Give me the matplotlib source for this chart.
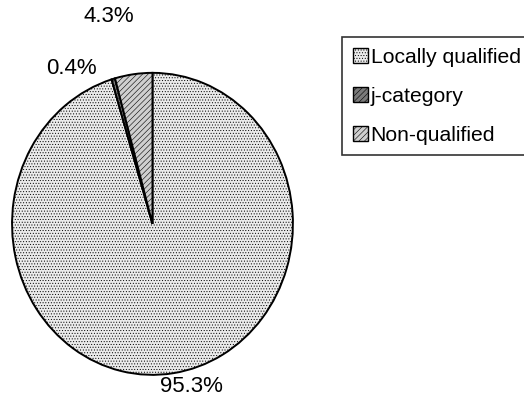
import matplotlib.pyplot as plt

# 数据
labels = ["Locally qualified", "j-category", "Non-qualified"]
shares = [95.3, 0.4, 4.3]
face_colors = ["#ebebeb", "#7a7a7a", "#cfcfcf"]
hatches = ["......", "//////", "//////"]

plt.rcParams["font.family"] = ["Liberation Sans", "DejaVu Sans"]
plt.rcParams["hatch.color"] = "#b4b4b4"
plt.rcParams["hatch.linewidth"] = 0.4

fig = plt.figure(figsize=(5.24, 4.07), dpi=100)
ax = fig.add_axes([0.023, 0.079, 0.536, 0.742])

wedges, texts, autotexts = ax.pie(
    shares, startangle=90, counterclock=False, colors=face_colors,
    autopct="%.1f%%", pctdistance=1.15,
    wedgeprops=dict(edgecolor="black", linewidth=1.4),
    textprops=dict(fontsize=16),
)
for w, h in zip(wedges, hatches):
    w.set_hatch(h)

# 标签位置（数据坐标）
label_pos = [(0.28, -1.08), (-0.58, 1.03), (-0.31, 1.37)]
for t, p in zip(autotexts, label_pos):
    t.set_position(p)
    t.set_clip_on(False)

ax.set_xlim(-1.0, 1.0)
ax.set_ylim(-1.0, 1.0)
ax.set_aspect("auto")

leg = fig.legend(
    wedges, labels, loc="upper left", bbox_to_anchor=(0.653, 0.909),
    fontsize=15.2, frameon=True, fancybox=False, edgecolor="black",
    handlelength=0.7, handleheight=0.7, handletextpad=0.15,
    labelspacing=0.95, borderpad=0.5, borderaxespad=0,
)
leg.get_frame().set_linewidth(1.2)
for h in leg.legend_handles:
    h.set_linewidth(1.0)

fig.savefig("out.png", dpi=100)
